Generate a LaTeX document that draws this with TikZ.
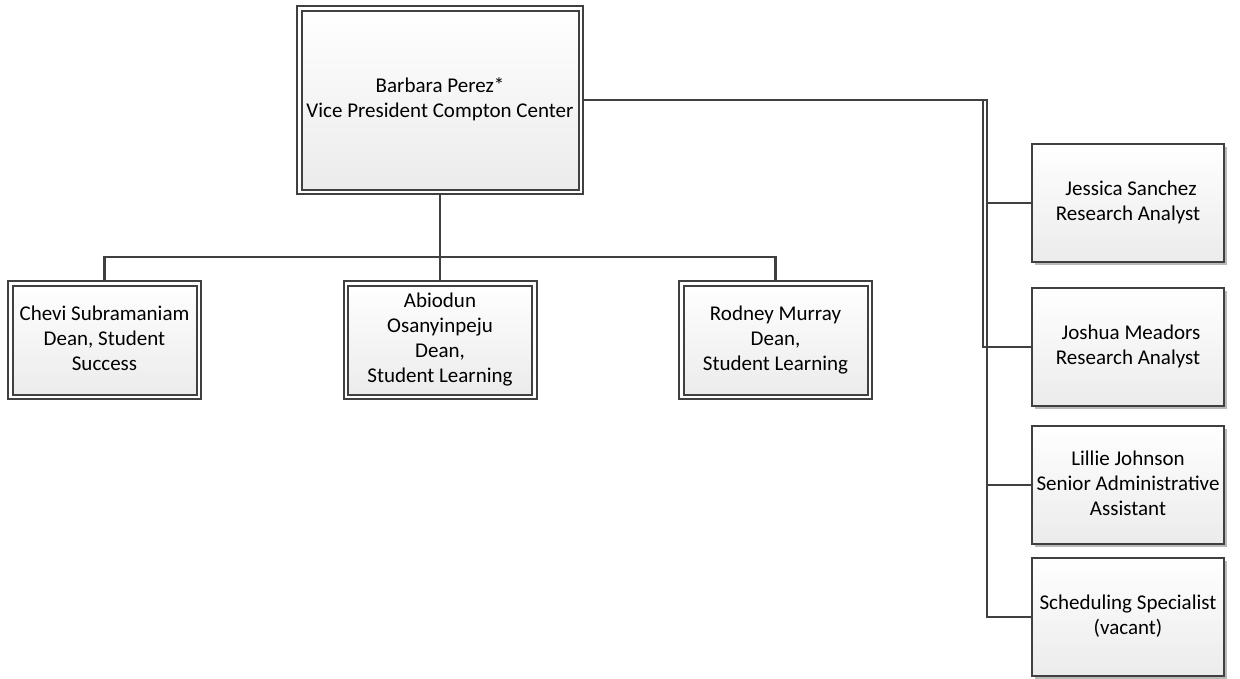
\documentclass[tikz,border=0pt]{standalone}
\usepackage{fontspec}
\setmainfont{Carlito}
\usetikzlibrary{shadows,backgrounds}
\definecolor{edge}{HTML}{404040}
\definecolor{fillbot}{HTML}{EBEBEB}
% centred block of lines, raised by #1 inside its box
\newcommand{\boxtext}[2]{\raisebox{#1}{\begin{tabular}{@{}c@{}}#2\end{tabular}}}

\begin{document}
\begin{tikzpicture}[x=1pt,y=-1pt,
  every node/.style={font=\fontsize{21}{25}\selectfont},
  card/.style={rectangle, draw=edge, line width=2pt, top color=white,
    bottom color=fillbot, inner sep=0pt, outer sep=0pt,
    drop shadow={shadow xshift=3pt, shadow yshift=-3pt, fill=black!60, opacity=0.45}},
  dcard/.style={card, double=white, double distance=2.5pt},
  conn/.style={draw=edge, line width=2.5pt}]

\useasboundingbox (0,0) rectangle (1240,678);

% vice president
\node[dcard, minimum width=281.5pt, minimum height=183.5pt] (vp) at (440,100)
  {\boxtext{11pt}{Barbara Perez*\\Vice President Compton Center}};

% deans
\node[dcard, minimum width=188.5pt, minimum height=113.5pt] (chevi) at (104.5,340)
  {\boxtext{0pt}{Chevi Subramaniam\\Dean, Student\\Success}};
\node[dcard, minimum width=188.5pt, minimum height=113.5pt] (abi) at (440,340)
  {\boxtext{0pt}{Abiodun\\Osanyinpeju\\Dean,\\Student Learning}};
\node[dcard, minimum width=188.5pt, minimum height=113.5pt] (rod) at (775.5,340)
  {\boxtext{0pt}{Rodney Murray\\Dean,\\Student Learning}};

% staff column
\node[card, minimum width=192pt, minimum height=118pt] (jess) at (1128,203)
  {\boxtext{10pt}{\hspace*{6pt}Jessica Sanchez\\Research Analyst}};
\node[card, minimum width=192pt, minimum height=118pt] (josh) at (1128,347)
  {\boxtext{10pt}{\hspace*{6pt}Joshua Meadors\\Research Analyst}};
\node[card, minimum width=192pt, minimum height=118pt] (lil) at (1128,485)
  {\boxtext{12pt}{Lillie Johnson\\Senior Administrative\\Assistant}};
\node[card, minimum width=192pt, minimum height=118pt] (sch) at (1128,617)
  {\boxtext{11pt}{Scheduling Specialist\\(vacant)}};

% reporting lines
\begin{pgfonlayer}{background}
  \coordinate (bus) at (440,257);
  \draw[conn] (vp.south) -- (bus) -- (abi.north);
  \draw[conn] (bus) -| (chevi.north);
  \draw[conn] (bus) -| (rod.north);
  \coordinate (trunkA) at (983,100);
  \coordinate (trunkB) at (987,100);
  \draw[conn] (vp.east) -- (trunkB) |- (jess.west);
  \draw[conn] (vp.east) -- (trunkA) |- (josh.west);
  \draw[conn] (vp.east) -- (trunkB) |- (lil.west);
  \draw[conn] (vp.east) -- (trunkB) |- (sch.west);
\end{pgfonlayer}
\end{tikzpicture}
\end{document}
